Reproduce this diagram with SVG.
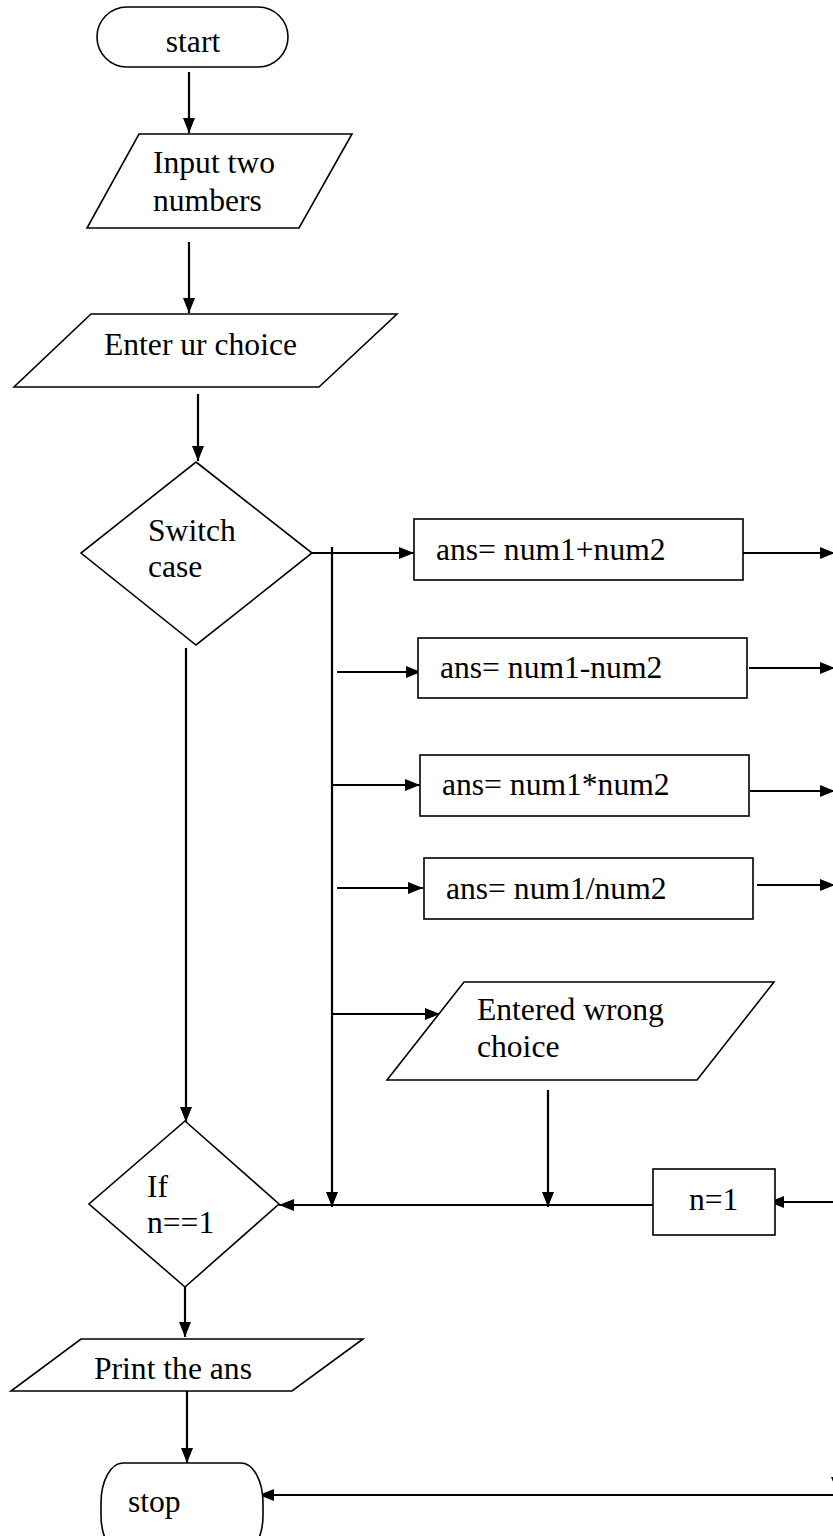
<svg xmlns="http://www.w3.org/2000/svg" width="833" height="1536" viewBox="0 0 833 1536">
  <style>
    .shape { fill: #ffffff; stroke: #000000; stroke-width: 1.6; }
    .wire { fill: none; stroke: #000000; stroke-width: 2.2; }
    .label { font-family: "Liberation Serif", "Times New Roman", serif; font-size: 31.6px; fill: #000000; }
  </style>
  <defs>
    <marker id="arrow" markerUnits="userSpaceOnUse" markerWidth="15" markerHeight="12" refX="15" refY="6" orient="auto">
      <path d="M0,0 L15,6 L0,12 z" fill="#000000"/>
    </marker>
  </defs>

  <rect width="833" height="1536" fill="#ffffff"/>

  <!-- connectors -->
  <g id="connectors">
    <line class="wire" x1="189" y1="72" x2="189" y2="133" marker-end="url(#arrow)"/>
    <line class="wire" x1="189" y1="242" x2="189" y2="313" marker-end="url(#arrow)"/>
    <line class="wire" x1="198" y1="394" x2="198" y2="461" marker-end="url(#arrow)"/>
    <!-- switch to the case boxes -->
    <line class="wire" x1="312" y1="553" x2="414" y2="553" marker-end="url(#arrow)"/>
    <line class="wire" x1="332" y1="547" x2="332" y2="1207" marker-end="url(#arrow)"/>
    <line class="wire" x1="337" y1="672" x2="421" y2="672" marker-end="url(#arrow)"/>
    <line class="wire" x1="332" y1="785" x2="420" y2="785" marker-end="url(#arrow)"/>
    <line class="wire" x1="337" y1="888" x2="423" y2="888" marker-end="url(#arrow)"/>
    <line class="wire" x1="332" y1="1014" x2="440" y2="1014" marker-end="url(#arrow)"/>
    <!-- case outputs leaving to the right -->
    <line class="wire" x1="743" y1="553" x2="835" y2="553" marker-end="url(#arrow)"/>
    <line class="wire" x1="749" y1="668" x2="835" y2="668" marker-end="url(#arrow)"/>
    <line class="wire" x1="750" y1="791" x2="835" y2="791" marker-end="url(#arrow)"/>
    <line class="wire" x1="757" y1="885" x2="835" y2="885" marker-end="url(#arrow)"/>
    <!-- wrong choice down to the merge line -->
    <line class="wire" x1="548" y1="1090" x2="548" y2="1207" marker-end="url(#arrow)"/>
    <!-- default path from switch down to the if -->
    <line class="wire" x1="186" y1="648" x2="186" y2="1122" marker-end="url(#arrow)"/>
    <!-- merge line into the if -->
    <line class="wire" x1="658" y1="1205" x2="279" y2="1205" marker-end="url(#arrow)"/>
    <line class="wire" x1="835" y1="1202" x2="769" y2="1202" marker-end="url(#arrow)"/>
    <!-- if to print, print to stop -->
    <line class="wire" x1="185" y1="1287" x2="185" y2="1337" marker-end="url(#arrow)"/>
    <line class="wire" x1="187" y1="1391" x2="187" y2="1463" marker-end="url(#arrow)"/>
    <line class="wire" x1="835" y1="1495" x2="259" y2="1495" marker-end="url(#arrow)"/>
    <path d="M831,1477 L843,1477 L837,1491 z" fill="#000000"/>
  </g>

  <g id="start">
    <rect class="shape" x="97" y="7" width="191" height="60" rx="30" ry="30"/>
    <text class="label" x="193" y="52" text-anchor="middle">start</text>
  </g>

  <g id="input-numbers">
    <polygon class="shape" points="139,134 352,134 299,228 87,228"/>
    <text class="label" x="153" y="173">Input two</text>
    <text class="label" x="153" y="211">numbers</text>
  </g>

  <g id="enter-choice">
    <polygon class="shape" points="91,314 397,314 319,387 14,387"/>
    <text class="label" x="104" y="355">Enter ur choice</text>
  </g>

  <g id="switch-case">
    <polygon class="shape" points="196,462 312,553 196,645 81,553"/>
    <text class="label" x="148" y="541">Switch</text>
    <text class="label" x="148" y="577">case</text>
  </g>

  <g id="case-add">
    <rect class="shape" x="414" y="519" width="329" height="61"/>
    <text class="label" x="436" y="560">ans= num1+num2</text>
  </g>

  <g id="case-sub">
    <rect class="shape" x="418" y="638" width="329" height="60"/>
    <text class="label" x="440" y="678">ans= num1-num2</text>
  </g>

  <g id="case-mul">
    <rect class="shape" x="420" y="755" width="329" height="61"/>
    <text class="label" x="442" y="795">ans= num1*num2</text>
  </g>

  <g id="case-div">
    <rect class="shape" x="424" y="858" width="329" height="61"/>
    <text class="label" x="446" y="899">ans= num1/num2</text>
  </g>

  <g id="wrong-choice">
    <polygon class="shape" points="464,982 774,982 697,1080 387,1080"/>
    <text class="label" x="477" y="1020">Entered wrong</text>
    <text class="label" x="477" y="1057">choice</text>
  </g>

  <g id="if-n">
    <polygon class="shape" points="185,1121 279,1204 185,1287 89,1204"/>
    <text class="label" x="147" y="1197">If</text>
    <text class="label" x="147" y="1233">n==1</text>
  </g>

  <g id="set-n">
    <rect class="shape" x="653" y="1169" width="122" height="66"/>
    <text class="label" x="689" y="1210">n=1</text>
  </g>

  <g id="print-ans">
    <polygon class="shape" points="81,1339 363,1339 292,1391 11,1391"/>
    <text class="label" x="94" y="1379">Print the ans</text>
  </g>

  <g id="stop">
    <rect class="shape" x="101" y="1463" width="162" height="92" rx="22" ry="40"/>
    <text class="label" x="128" y="1512">stop</text>
  </g>
</svg>
